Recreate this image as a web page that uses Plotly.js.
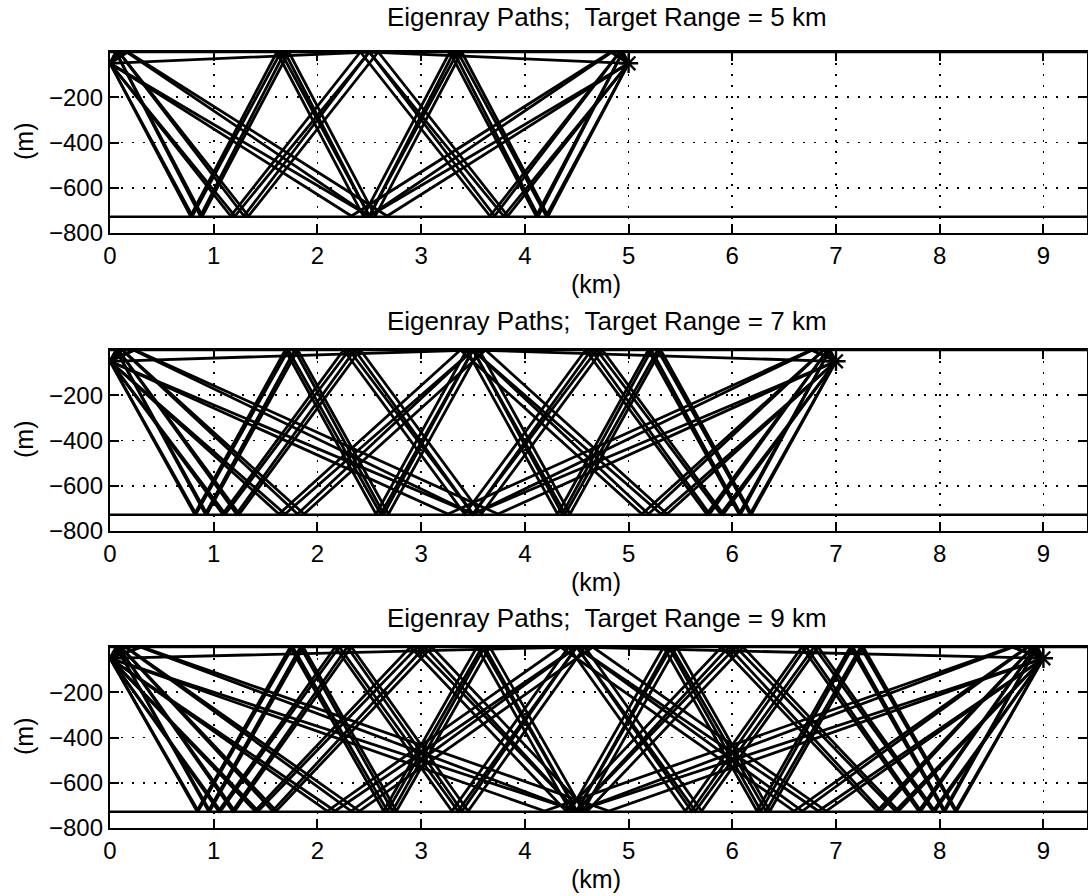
<!DOCTYPE html>
<html>
<head>
<meta charset="utf-8">
<script src="https://cdn.plot.ly/plotly-3.0.1.min.js"></script>
<style>
  html, body { margin: 0; padding: 0; background: #fff; overflow: hidden; }
  #chart { width: 1088px; height: 896px; }
</style>
</head>
<body>
<div id="chart"></div>
<script>
// ---------------- data ----------------
const targetRanges = [5, 7, 9];            // km
const sourceDepth = -50;                    // m (source and target depth)
const bottomDepth = -725;                   // m, depth of ray bottom reflections
const bottomLineDepth = -728;               // m, drawn sea-floor line
const xTickVals = [0, 1, 2, 3, 4, 5, 6, 7, 8, 9];
const yTickVals = [-800, -600, -400, -200];
const panelTitles = [
  "Eigenray Paths;  Target Range = 5 km",
  "Eigenray Paths;  Target Range = 7 km",
  "Eigenray Paths;  Target Range = 9 km"
];

// Ray reflection sequences (S = surface, B = bottom) and reflection ranges (km)
const pathsR5 = ["S", "B", "SB", "BS", "SBS",
  "BSB", "SBSB", "BSBS", "SBSBS",
  "BSBSB", "SBSBSB", "BSBSBS", "SBSBSBS"];
const bouncesR5 = [
  [2.5], [2.5], [0.172, 2.672], [2.328, 4.828], [0.161, 2.5, 4.839],
  [1.205, 2.5, 3.795],
  [0.086, 1.336, 2.586, 3.836],
  [1.164, 2.414, 3.664, 4.914],
  [0.083, 1.292, 2.5, 3.708, 4.917],
  [0.794, 1.647, 2.5, 3.353, 4.206],
  [0.057, 0.891, 1.724, 2.557, 3.391, 4.224],
  [0.776, 1.609, 2.443, 3.276, 4.109, 4.943],
  [0.056, 0.871, 1.685, 2.5, 3.315, 4.129, 4.944]
];

const pathsR7 = ["S", "B", "SB", "BS", "SBS",
  "BSB", "SBSB", "BSBS", "SBSBS",
  "BSBSB", "SBSBSB", "BSBSBS", "SBSBSBS",
  "BSBSBSB", "SBSBSBSB", "BSBSBSBS", "SBSBSBSBS"];
const bouncesR7 = [
  [3.5], [3.5], [0.241, 3.741], [3.259, 6.759], [0.226, 3.5, 6.774],
  [1.688, 3.5, 5.313],
  [0.121, 1.871, 3.621, 5.371],
  [1.629, 3.379, 5.129, 6.879],
  [0.117, 1.808, 3.5, 5.192, 6.883],
  [1.112, 2.306, 3.5, 4.694, 5.888],
  [0.080, 1.247, 2.414, 3.580, 4.747, 5.914],
  [1.086, 2.253, 3.420, 4.586, 5.753, 6.920],
  [0.079, 1.219, 2.360, 3.5, 4.640, 5.781, 6.921],
  [0.829, 1.719, 2.610, 3.5, 4.390, 5.281, 6.171],
  [0.060, 0.935, 1.810, 2.685, 3.560, 4.435, 5.310, 6.185],
  [0.815, 1.690, 2.565, 3.440, 4.315, 5.190, 6.065, 6.940],
  [0.059, 0.919, 1.780, 2.640, 3.5, 4.360, 5.220, 6.081, 6.941]
];

const pathsR9 = ["S", "B", "SB", "BS", "SBS",
  "BSB", "SBSB", "BSBS", "SBSBS",
  "BSBSB", "SBSBSB", "BSBSBS", "SBSBSBS",
  "BSBSBSB", "SBSBSBSB", "BSBSBSBS", "SBSBSBSBS",
  "BSBSBSBSB", "SBSBSBSBSB", "BSBSBSBSBS", "SBSBSBSBSBS"];
const bouncesR9 = [
  [4.5], [4.5], [0.310, 4.810], [4.190, 8.690], [0.290, 4.5, 8.710],
  [2.170, 4.5, 6.830],
  [0.155, 2.405, 4.655, 6.905],
  [2.095, 4.345, 6.595, 8.845],
  [0.150, 2.325, 4.5, 6.675, 8.850],
  [1.429, 2.965, 4.5, 6.035, 7.571],
  [0.103, 1.603, 3.103, 4.603, 6.103, 7.603],
  [1.397, 2.897, 4.397, 5.897, 7.397, 8.897],
  [0.101, 1.567, 3.034, 4.5, 5.966, 7.433, 8.899],
  [1.066, 2.211, 3.355, 4.5, 5.645, 6.789, 7.934],
  [0.078, 1.203, 2.328, 3.453, 4.578, 5.703, 6.828, 7.953],
  [1.047, 2.172, 3.297, 4.422, 5.547, 6.672, 7.797, 8.922],
  [0.076, 1.182, 2.288, 3.394, 4.5, 5.606, 6.712, 7.818, 8.924],
  [0.850, 1.762, 2.675, 3.587, 4.5, 5.413, 6.325, 7.238, 8.150],
  [0.062, 0.962, 1.862, 2.762, 3.662, 4.562, 5.462, 6.362, 7.262, 8.162],
  [0.838, 1.738, 2.638, 3.538, 4.438, 5.338, 6.238, 7.138, 8.038, 8.938],
  [0.061, 0.949, 1.837, 2.724, 3.612, 4.5, 5.388, 6.276, 7.163, 8.051, 8.939]
];

const allPaths = [pathsR5, pathsR7, pathsR9];
const allBounces = [bouncesR5, bouncesR7, bouncesR9];

// ---------------- layout geometry ----------------
const W = 1088, H = 896;
const xRange = [0, 9.42];
const xDomain = [110 / W, 1087 / W];
const panelPx = [[52, 233], [350, 531], [647, 828]];   // top / bottom pixel of each plot area
const titleY = [17, 321, 618];
const kmY = [284, 582, 879];
const mY = [142, 440, 737];

const traces = [];
const layout = {
  width: W, height: H,
  margin: {l: 0, r: 0, t: 0, b: 0, pad: 0},
  paper_bgcolor: '#ffffff', plot_bgcolor: '#ffffff',
  showlegend: false,
  hovermode: false,
  font: {family: '"Liberation Sans", Arial, Helvetica, sans-serif', size: 24, color: '#000'},
  annotations: []
};

for (let p = 0; p < 3; p++) {
  const n = p === 0 ? '' : String(p + 1);
  const xa = 'x' + n, ya = 'y' + n;
  const R = targetRanges[p];

  allPaths[p].forEach((code, i) => {
    const b = allBounces[p][i];
    const xs = [0].concat(b, [R]);
    const ys = [sourceDepth].concat(code.split('').map(c => c === 'S' ? 0 : bottomDepth), [sourceDepth]);
    traces.push({x: xs, y: ys, xaxis: xa, yaxis: ya, type: 'scatter', mode: 'lines',
      line: {color: '#000', width: 2.8}, hoverinfo: 'skip'});
  });

  // sea floor line
  traces.push({x: [xRange[0], xRange[1]], y: [bottomLineDepth, bottomLineDepth], xaxis: xa, yaxis: ya,
    type: 'scatter', mode: 'lines', line: {color: '#000', width: 2.4}});
  // surface line
  traces.push({x: [xRange[0], xRange[1]], y: [0, 0], xaxis: xa, yaxis: ya,
    type: 'scatter', mode: 'lines', line: {color: '#000', width: 2.4}});
  // target marker
  traces.push({x: [R], y: [sourceDepth], xaxis: xa, yaxis: ya, type: 'scatter', mode: 'markers',
    marker: {symbol: 'asterisk-open', size: 16, color: '#000', line: {color: '#000', width: 2.4}},
    cliponaxis: false});

  const top = 1 - panelPx[p][0] / H, bot = 1 - panelPx[p][1] / H;
  layout['xaxis' + n] = {
    domain: xDomain, anchor: ya, range: xRange, tickvals: xTickVals,
    showline: true, linecolor: '#000', linewidth: 2.2, mirror: 'ticks',
    ticks: 'inside', ticklen: 9, tickwidth: 2, tickcolor: '#000',
    showgrid: true, gridcolor: '#000', gridwidth: 1.6, griddash: '2px,9px',
    zeroline: false, tickfont: {size: 24}, fixedrange: true
  };
  layout['yaxis' + n] = {
    domain: [bot, top], anchor: xa, range: [-800, 0], tickvals: yTickVals,
    showline: true, linecolor: '#000', linewidth: 2.2, mirror: 'ticks',
    ticks: 'inside', ticklen: 9, tickwidth: 2, tickcolor: '#000',
    showgrid: true, gridcolor: '#000', gridwidth: 1.6, griddash: '2px,9px',
    zeroline: false, tickfont: {size: 24}, fixedrange: true
  };

  layout.annotations.push({text: panelTitles[p], xref: 'paper', yref: 'paper',
    x: 607 / W, y: 1 - titleY[p] / H, xanchor: 'center', yanchor: 'middle',
    showarrow: false, font: {size: 26}});
  layout.annotations.push({text: '(km)', xref: 'paper', yref: 'paper',
    x: 596 / W, y: 1 - kmY[p] / H, xanchor: 'center', yanchor: 'middle',
    showarrow: false, font: {size: 25}});
  layout.annotations.push({text: '(m)', xref: 'paper', yref: 'paper',
    x: 24 / W, y: 1 - mY[p] / H, xanchor: 'center', yanchor: 'middle', textangle: -90,
    showarrow: false, font: {size: 25}});
}

Plotly.newPlot('chart', traces, layout, {staticPlot: true, displayModeBar: false});
</script>
</body>
</html>
